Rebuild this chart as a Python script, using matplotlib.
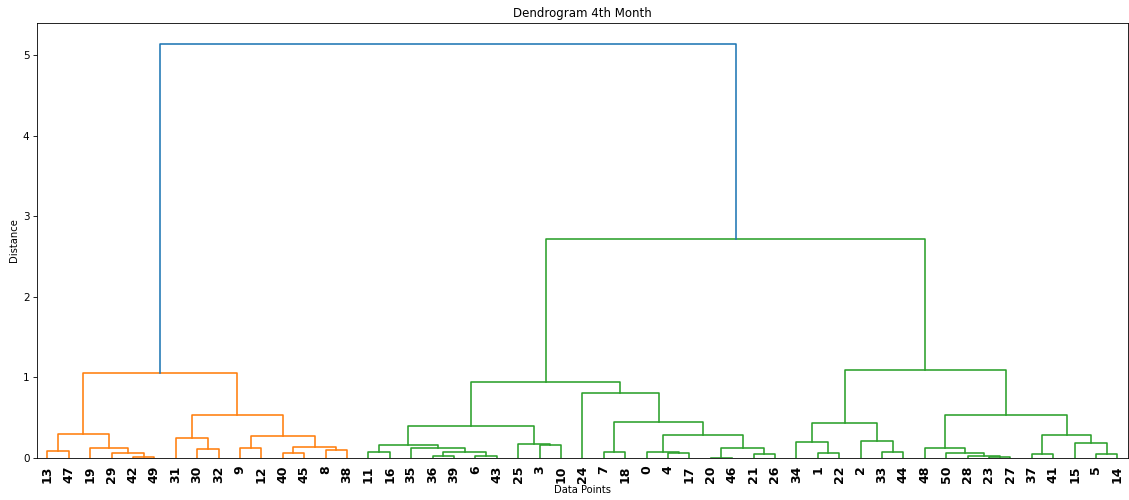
import matplotlib
matplotlib.use("Agg")
import matplotlib.pyplot as plt

# Linkage rows (scipy style): left id, right id, merge distance.
# ids < 51 are data points, id 51 + k refers to row k.
N_POINTS = 51
link_left = [42, 29, 19, 13, 54, 30, 31, 9, 40, 8, 59, 58, 57, 55,
             11, 36, 6, 66, 35, 65, 3, 25, 70, 7, 4, 0, 20, 21, 77, 76, 74, 24, 73,
             1, 34, 33, 2, 85, 23, 28, 50, 48, 37, 5, 15, 93, 92, 88, 83, 64]
link_right = [49, 51, 52, 47, 53, 32, 56, 12, 45, 38, 60, 61, 62, 63,
              16, 39, 43, 67, 68, 69, 10, 71, 72, 18, 17, 75, 46, 26, 78, 79, 80, 81, 82,
              22, 84, 44, 86, 87, 27, 89, 90, 91, 41, 14, 94, 95, 96, 97, 98, 99]
link_dist = [0.01, 0.06, 0.13, 0.09, 0.30, 0.11, 0.25, 0.13, 0.06, 0.10, 0.14, 0.27, 0.53, 1.05,
             0.07, 0.02, 0.03, 0.08, 0.13, 0.16, 0.16, 0.17, 0.40, 0.07, 0.06, 0.07, 0.005,
             0.05, 0.12, 0.28, 0.45, 0.81, 0.94,
             0.06, 0.20, 0.08, 0.21, 0.44, 0.01, 0.02, 0.06, 0.12, 0.05, 0.05, 0.19, 0.28,
             0.53, 1.09, 2.72, 5.14]

palette = ["C1", "C2", "C3", "C4", "C5", "C6", "C7", "C8", "C9"]
above_color = "C0"
threshold = 0.7 * max(link_dist)


def height(node):
    return 0.0 if node < N_POINTS else link_dist[node - N_POINTS]


# leaf order and x positions
pos = {}
order = []


def place(node):
    if node < N_POINTS:
        pos[node] = 5 + 10 * len(order)
        order.append(node)
        return pos[node]
    k = node - N_POINTS
    xl = place(link_left[k])
    xr = place(link_right[k])
    pos[node] = (xl + xr) / 2
    return pos[node]


root = N_POINTS + len(link_dist) - 1
place(root)

# colour of each link (cluster colours below the threshold)
link_color = {}
color_iter = iter(palette)


def paint(node, color):
    if node < N_POINTS:
        return
    k = node - N_POINTS
    if link_dist[k] >= threshold:
        link_color[node] = above_color
        for child in (link_left[k], link_right[k]):
            if child >= N_POINTS and height(child) < threshold:
                paint(child, next(color_iter))
            else:
                paint(child, above_color)
    else:
        link_color[node] = color
        paint(link_left[k], color)
        paint(link_right[k], color)


paint(root, above_color)

fig = plt.figure(figsize=(11.29, 5.0), dpi=100)
ax = fig.add_axes([36.6 / 1129, 0.084, 1091.5 / 1129, 0.870])

for k in range(len(link_dist)):
    node = N_POINTS + k
    a, b = link_left[k], link_right[k]
    ax.plot([pos[a], pos[a], pos[b], pos[b]],
            [height(a), link_dist[k], link_dist[k], height(b)],
            color=link_color[node], linewidth=1.15)

ax.set_xlim(0, 10 * N_POINTS)
ax.set_ylim(0, max(link_dist) * 1.05)
ax.set_xticks([pos[i] for i in order])
ax.set_xticklabels([str(i) for i in order], rotation=90, fontsize=9, fontweight="bold")
for line in ax.get_xticklines():
    line.set_visible(False)
ax.set_yticks([0, 1, 2, 3, 4, 5])
ax.tick_params(axis="y", labelsize=7.5, width=0.6, length=2.6, pad=2.5)
ax.tick_params(axis="x", pad=2)
for sp in ax.spines.values():
    sp.set_linewidth(0.6)

ax.set_title("Dendrogram 4th Month", fontsize=8.5, pad=4)
ax.set_xlabel("Data Points", fontsize=7.2, labelpad=1.5)
ax.set_ylabel("Distance", fontsize=7.2, labelpad=3)

fig.savefig("out.png", dpi=100)
